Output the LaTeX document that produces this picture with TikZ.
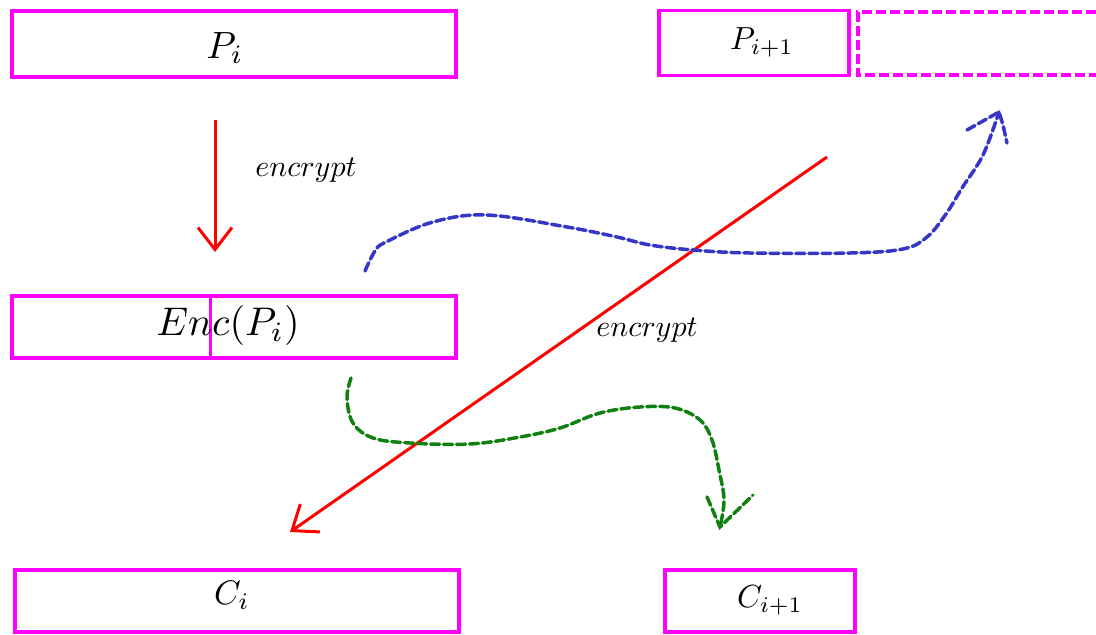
\documentclass[tikz,border=0pt]{standalone}
\usetikzlibrary{arrows.meta}
\definecolor{boxpink}{HTML}{FF00FF}
\definecolor{curveblue}{HTML}{3535C8}
\definecolor{curvegreen}{HTML}{108010}
\tikzset{
  blockbox/.style={draw=boxpink,line width=3.5pt,minimum height=62pt,inner sep=0pt},
  enclabel/.style={scale=3.0},
  encarrow/.style={draw=red,line width=3pt,-{Straight Barb[length=22pt,width=34pt,line width=3pt]}},
  handcurve/.style={line width=3.5pt,dash pattern=on 9pt off 4pt,line cap=round}
}
\begin{document}
\begin{tikzpicture}[x=1pt,y=-1pt]
  \useasboundingbox (0,0) rectangle (1096,635);
  \clip (0,0) rectangle (1096,635);
  % plaintext row
  \node[blockbox,minimum width=444pt,minimum height=66pt] (pi) at (234,44) {};
  \node[scale=3.8] (pitext) at (225,48) {$P_i$};
  \node[blockbox,minimum width=190pt,minimum height=65pt] (pnext) at (754,43) {};
  \node[scale=3.2] (pnexttext) at (762,42) {$P_{i+1}$};
  \draw[boxpink,line width=3.5pt,dashed,dash pattern=on 10pt off 4pt] (1110,12) -- (858,12) -- (858,75) -- (1110,75);
  % encrypted block
  \node[blockbox,minimum width=444pt] (enc) at (234,327) {};
  \draw[boxpink,line width=3pt] (enc.north west) ++(200,0) coordinate (split) -- ++(0,62);
  \node[scale=4.0] (enctext) at (228,325) {$Enc(P_i)$};
  % ciphertext row
  \node[blockbox,minimum width=444pt] (ci) at (237,601) {};
  \node[scale=3.4] (citext) at (232,595) {$C_i$};
  \node[blockbox,minimum width=190pt] (cnext) at (760,601) {};
  \node[scale=3.2] (cnexttext) at (770,600) {$C_{i+1}$};
  % encryption arrows
  \coordinate (downstart) at (215,120);
  \coordinate (downend) at (215,252);
  \draw[encarrow] (downstart) -- (downend);
  \node[enclabel] (encA) at (306,170) {$encrypt$};
  \coordinate (diagstart) at (827,157);
  \coordinate (diagend) at (290,532);
  \draw[encarrow] (diagstart) -- (diagend);
  \node[enclabel] (encB) at (647,330) {$encrypt$};
  % hand drawn curves
  \coordinate (bluetip) at (999,112);
  \draw[handcurve,curveblue] plot[smooth,tension=0.6] coordinates {(365,271) (375,251) (386,242) (433,222) (487,215) (567,227) (617,237) (650,245) (693,250) (750,253) (850,253) (903,249) (927,237) (946,214) (962,188) (983,155) (bluetip)};
  \draw[handcurve,curveblue] (967,130) -- (bluetip) -- (1003,125) -- (1007,143);
  \coordinate (greentip) at (720,527);
  \draw[handcurve,curvegreen] plot[smooth,tension=0.6] coordinates {(351,378) (347,398) (353,423) (373,438) (410,443) (470,444) (520,437) (560,428) (600,413) (640,407) (675,408) (700,420) (712,440) (719,470) (724,500) (greentip)};
  \draw[handcurve,curvegreen] (707,497) -- (greentip) -- (753,495);
\end{tikzpicture}
\end{document}
